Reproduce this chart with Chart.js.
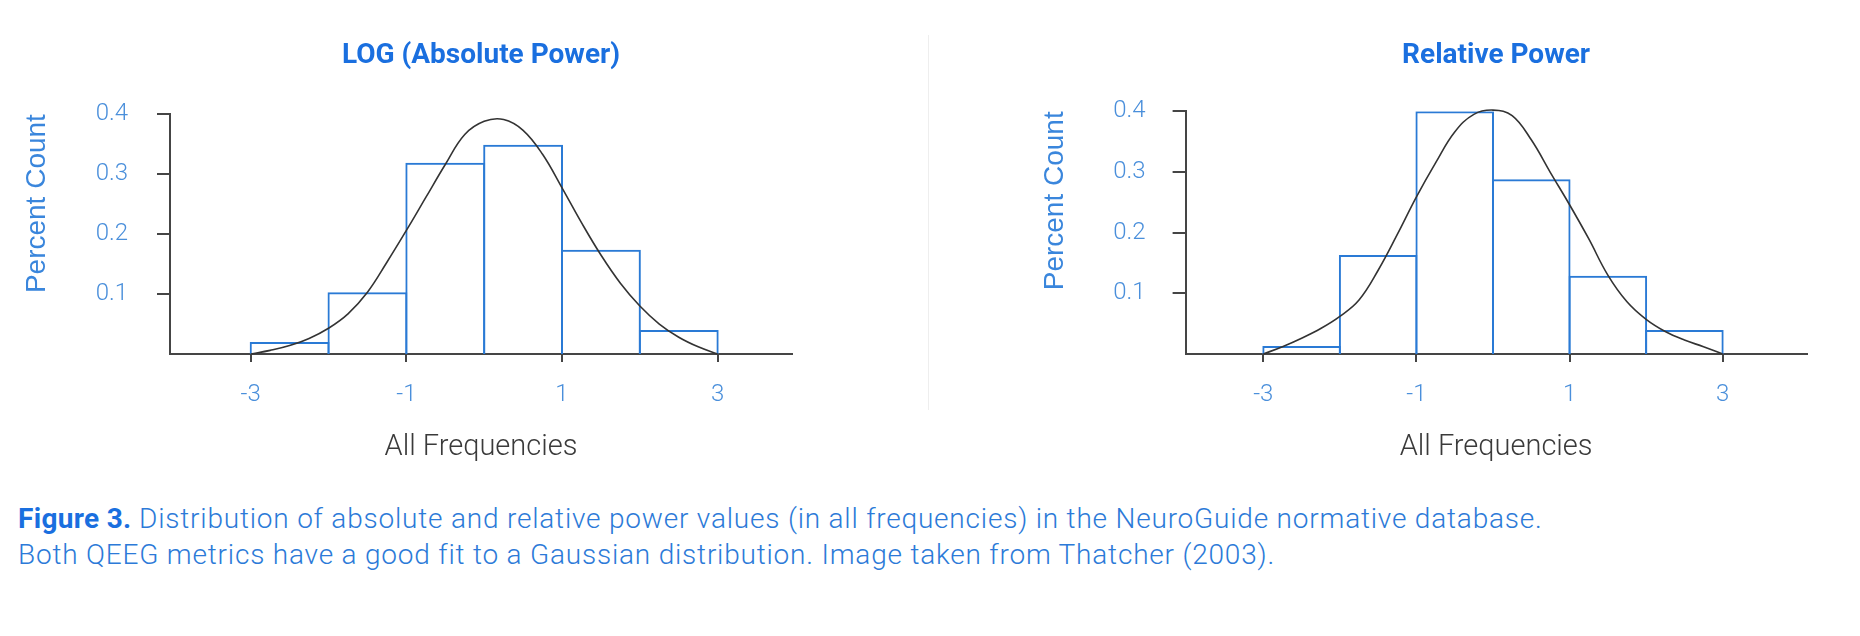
<!DOCTYPE html>
<html>
<head>
<meta charset="utf-8">
<script src="https://cdn.jsdelivr.net/npm/chart.js@4.4.1/dist/chart.umd.min.js"></script>
<style>
  body { margin: 0; background: #fff; width: 1860px; height: 636px; overflow: hidden; position: relative; font-family: Roboto, sans-serif; }
  .panel { position: absolute; top: 0; width: 930px; height: 470px; }
  #leftPanel { left: 0; }
  #rightPanel { left: 930px; }
  .divider { position: absolute; left: 928px; top: 35px; width: 1px; height: 375px; background: #eeeeee; }
  .caption { position: absolute; left: 18px; top: 501px; font-size: 28px; line-height: 36px; letter-spacing: 0.8px; color: #2c7ad8; font-weight: 300; white-space: nowrap; }
  .caption b { color: #1a6fdf; font-weight: 700; letter-spacing: 0.3px; }
</style>
</head>
<body>
<div class="panel" id="leftPanel"><canvas id="absChart"></canvas></div>
<div class="divider"></div>
<div class="panel" id="rightPanel"><canvas id="relChart"></canvas></div>
<div class="caption"><b>Figure 3.</b> Distribution of absolute and relative power values (in all frequencies) in the NeuroGuide normative database.<br>Both QEEG metrics have a good fit to a Gaussian distribution. Image taken from Thatcher (2003).</div>
<script>
// histogram bins (z-score edges) and bar heights
const binEdges = [-3, -2, -1, 0, 1, 2, 3];
const absHeights = [0.02, 0.103, 0.319, 0.349, 0.174, 0.04];
const relHeights = [0.013, 0.163, 0.4, 0.288, 0.129, 0.0395];

// fitted curve, sampled by eye every 0.25
const curveX = [-3, -2.75, -2.5, -2.25, -2, -1.75, -1.5, -1.25, -1, -0.75, -0.5, -0.25, 0,
  0.25, 0.5, 0.75, 1, 1.25, 1.5, 1.75, 2, 2.25, 2.5, 2.75, 3];
const absCurve = [0, 0.006, 0.014, 0.026, 0.043, 0.067, 0.103, 0.153, 0.206, 0.261, 0.316, 0.366, 0.388,
  0.391, 0.373, 0.333, 0.277, 0.219, 0.165, 0.118, 0.08, 0.05, 0.028, 0.012, 0];
const relCurve = [0, 0.012, 0.026, 0.042, 0.062, 0.089, 0.138, 0.197, 0.259, 0.315, 0.366, 0.395, 0.402,
  0.393, 0.353, 0.299, 0.246, 0.19, 0.13, 0.086, 0.057, 0.037, 0.023, 0.012, 0];

const xTickValues = [-3, -1, 1, 3];
const yTickValues = [0.1, 0.2, 0.3, 0.4];

Chart.defaults.font.family = "Roboto, sans-serif";

function drawHistogram(canvasId, title, heights, curve, opts) {
  const bars = heights.map((h, i) => ({ x: (binEdges[i] + binEdges[i + 1]) / 2, y: h }));
  const line = curveX.map((x, i) => ({ x: x, y: curve[i] }));
  const ctx = document.getElementById(canvasId).getContext("2d");

  return new Chart(ctx, {
    type: "bar",
    data: {
      datasets: [
        {
          type: "line",
          data: line,
          borderColor: "#333333",
          borderWidth: 1.6,
          pointRadius: 0,
          tension: 0.4,
          fill: false,
          clip: false,
          order: 0,
        },
        {
          type: "bar",
          data: bars,
          backgroundColor: "rgba(255,255,255,0)",
          borderColor: "#2a7ad5",
          borderWidth: 2,
          barPercentage: 1.026,
          categoryPercentage: 1,
          order: 1,
        },
      ],
    },
    options: {
      responsive: true,
      maintainAspectRatio: false,
      animation: false,
      layout: { padding: { left: 0, right: opts.padRight, top: 0, bottom: 0 } },
      plugins: {
        legend: { display: false },
        tooltip: { enabled: false },
        title: {
          display: true,
          text: title,
          fullSize: false,
          color: "#1a6fdf",
          font: { size: 28, weight: "bold" },
          padding: { top: 39.2, bottom: opts.titleBottom },
        },
      },
      scales: {
        x: {
          type: "linear",
          min: opts.xMin,
          max: opts.xMax,
          offset: false,
          afterFit: (scale) => { scale.height = 116; },
          afterBuildTicks: (scale) => { scale.ticks = xTickValues.map((v) => ({ value: v })); },
          grid: { offset: false, drawOnChartArea: false, drawTicks: true, tickLength: 8, color: "#454545", lineWidth: 2 },
          border: { display: true, color: "#454545", width: 2 },
          ticks: { color: "#4a8fdb", padding: 19, maxRotation: 0, font: { size: 24, weight: 300 }, callback: (v) => String(v) },
          title: { display: true, text: "All Frequencies", color: "#3a3a3a", font: { size: 29, weight: 300 }, padding: { top: 0, bottom: 5 } },
        },
        y: {
          min: 0,
          max: 0.4,
          afterFit: (scale) => { scale.width = opts.yWidth; },
          afterBuildTicks: (scale) => { scale.ticks = yTickValues.map((v) => ({ value: v })); },
          grid: { drawOnChartArea: false, drawTicks: true, tickLength: 13, color: "#454545", lineWidth: 2 },
          border: { display: true, color: "#454545", width: 2 },
          ticks: { color: "#4a8fdb", padding: opts.yTickPad, font: { size: 24, weight: 300 }, callback: (v) => v.toFixed(1) },
          title: {
            display: true,
            text: "Percent Count",
            align: "end",
            color: "#3a86dc",
            font: { family: "'Liberation Sans', Arial, sans-serif", size: 28, weight: "normal" },
            padding: { top: opts.yTitlePad, bottom: 0 },
          },
        },
      },
    },
  });
}

drawHistogram("absChart", "LOG (Absolute Power)", absHeights, absCurve, {
  padRight: 138, titleBottom: 41.3, xMin: -4.037, xMax: 3.955, yWidth: 170, yTickPad: 29, yTitlePad: 20,
});
drawHistogram("relChart", "Relative Power", relHeights, relCurve, {
  padRight: 53.4, titleBottom: 38.5, xMin: -4.015, xMax: 4.096, yWidth: 255.6, yTickPad: 27, yTitlePad: 108,
});
</script>
</body>
</html>
